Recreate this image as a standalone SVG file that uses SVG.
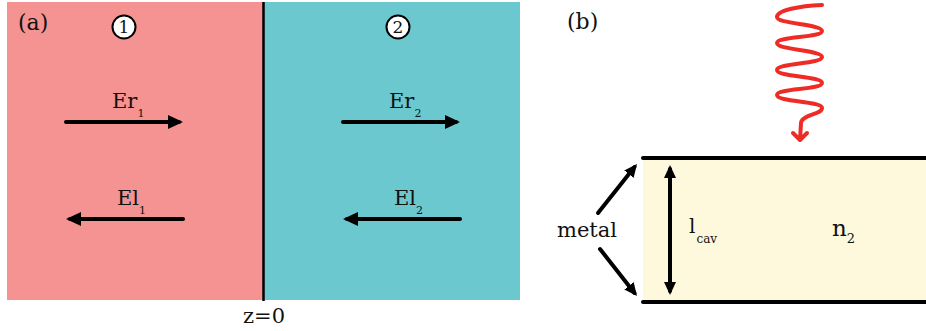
<svg xmlns="http://www.w3.org/2000/svg" width="926" height="331" viewBox="0 0 926 331">
<style>
text{font-family:"DejaVu Serif","Liberation Serif",serif;fill:#111}
.arr{stroke:#000;stroke-width:4;stroke-linecap:round;fill:none}
.arr2{stroke:#000;stroke-width:4;stroke-linecap:round;fill:none}
.wall{stroke:#000;stroke-width:4;stroke-linecap:round}
.num{fill:#fff;stroke:#000;stroke-width:2}
</style>
<defs>
<marker id="ah" markerUnits="userSpaceOnUse" markerWidth="16" markerHeight="15" refX="11" refY="7" orient="auto"><path d="M0,0 L15,7 L0,14 z" fill="#000"/></marker>
<marker id="ah2" markerUnits="userSpaceOnUse" markerWidth="14" markerHeight="13" refX="9" refY="6" orient="auto-start-reverse"><path d="M0,0 L13,6 L0,12 z" fill="#000"/></marker>
</defs>
<g id="region1">
<rect x="7" y="2" width="257" height="298" fill="#F49391"/>
</g>
<g id="region2">
<rect x="264" y="2" width="256" height="298" fill="#6BC8CF"/>
</g>
<g id="interface">
<line x1="263.5" y1="2" x2="263.5" y2="301" stroke="#000" stroke-width="2.5"/>
<text x="264" y="323" font-size="21" text-anchor="middle">z=0</text>
</g>
<g id="label-a"><text x="18" y="30" font-size="22">(a)</text></g>
<g id="circ1"><circle class="num" cx="124" cy="27" r="11.5"/><text x="124" y="33" font-size="17" text-anchor="middle">1</text></g>
<g id="circ2"><circle class="num" cx="398" cy="27" r="11.5"/><text x="398" y="33" font-size="17" text-anchor="middle">2</text></g>
<g id="Er1-label"><text x="112" y="108" font-size="21">Er<tspan font-size="11" dy="9">1</tspan></text></g>
<g id="El1-label"><text x="117" y="205" font-size="21">El<tspan font-size="11" dy="9">1</tspan></text></g>
<g id="Er2-label"><text x="389" y="108" font-size="21">Er<tspan font-size="11" dy="9">2</tspan></text></g>
<g id="El2-label"><text x="394" y="205" font-size="21">El<tspan font-size="11" dy="9">2</tspan></text></g>
<g id="label-b"><text x="567" y="29" font-size="22">(b)</text></g>
<g id="cavity">
<rect x="643" y="158" width="283" height="144" fill="#FEF9DC"/>
<line class="wall" x1="643" y1="158" x2="928" y2="158"/>
<line class="wall" x1="643" y1="302" x2="928" y2="302"/>
<text x="832" y="236" font-size="23">n<tspan font-size="13" dy="7">2</tspan></text>
<text x="689" y="233" font-size="20">l<tspan font-size="12" dy="10" dx="1">cav</tspan></text>
</g>
<g id="metal-label"><text x="557" y="237" font-size="21">metal</text></g>
<g id="light">
<path d="M822,5 C800,6 777,10 777,17 C777,24 822,24 822,31 C822,38 777,36 777,43 C777,50 822,50 822,57 C822,64 777,63 777,70 C777,77 822,76 822,83 C822,90 777,88 777,95 C777,102 822,101 822,108 C822,115 802,114 801,123 L800,140 M793,133 L800,140 L807,133" fill="none" stroke="#EE2B25" stroke-width="4" stroke-linecap="round" stroke-linejoin="round"/>
</g>
<g id="connectors">
<line class="arr" x1="66" y1="122" x2="179" y2="122" marker-end="url(#ah)"/>
<line class="arr" x1="183" y1="219" x2="70" y2="219" marker-end="url(#ah)"/>
<line class="arr" x1="343" y1="122" x2="456" y2="122" marker-end="url(#ah)"/>
<line class="arr" x1="460" y1="219" x2="347" y2="219" marker-end="url(#ah)"/>
<line class="arr2" x1="670" y1="169" x2="670" y2="291" marker-start="url(#ah2)" marker-end="url(#ah2)"/>
<line class="arr2" x1="598" y1="213" x2="634.5" y2="167.1" marker-end="url(#ah2)"/>
<line class="arr2" x1="600" y1="249" x2="634.5" y2="292.9" marker-end="url(#ah2)"/>
</g>
</svg>
